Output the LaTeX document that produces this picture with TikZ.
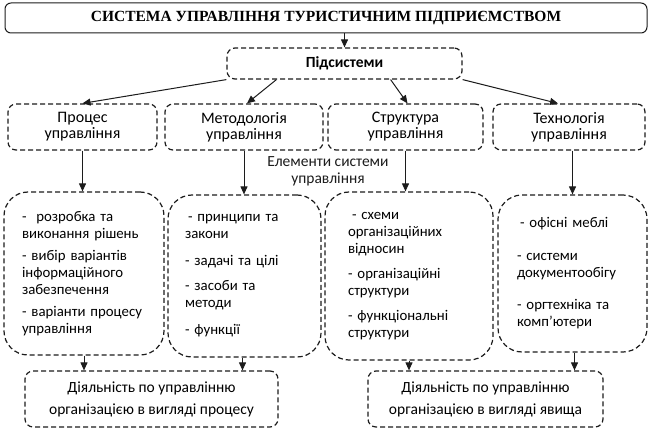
\documentclass[tikz,border=0pt]{standalone}
\usepackage{fontspec}
\setmainfont{Carlito}
\newfontfamily\titlefont{Liberation Serif}
\usetikzlibrary{arrows.meta,positioning,calc}
\definecolor{vink}{HTML}{1C1C1C}
\tikzset{
  ttl/.style={draw=vink,rounded corners=6pt,line width=1pt,font=\titlefont\bfseries\fontsize{15.5}{18}\selectfont,minimum width=642pt,minimum height=30pt,inner sep=0pt},
  dbox/.style={draw=vink,dash pattern=on 5pt off 3pt,line width=1.2pt,rounded corners=8pt,align=center,font=\fontsize{16}{16}\selectfont,inner sep=0pt},
  bigbox/.style={dbox,rounded corners=24pt,align=left,font=\fontsize{14.8}{17}\selectfont},
  actbox/.style={dbox,font=\fontsize{15.5}{22}\selectfont,minimum height=56pt},
  arr/.style={-{Triangle[length=8pt,width=7pt]},line width=1pt,draw=vink},
  lbl/.style={align=center,font=\fontsize{15.5}{17}\selectfont,text=vink},
}
\begin{document}
\begin{tikzpicture}[x=1pt,y=-1pt]
  \useasboundingbox (0,0) rectangle (650,430);
  % top
  \node[ttl] (sys) at (326,18) {СИСТЕМА УПРАВЛІННЯ ТУРИСТИЧНИМ ПІДПРИЄМСТВОМ};
  \node[dbox,font=\bfseries\fontsize{15.5}{16}\selectfont,minimum width=235pt,minimum height=31pt] (sub) at (344.5,63.5) {Підсистеми};
  % subsystems
  \node[dbox,minimum width=149pt,minimum height=46pt] (proc) at (82.5,127) {Процес\\управління};
  \node[dbox,minimum width=158pt,minimum height=46pt] (meth) at (244,127) {Методологія\\управління};
  \node[dbox,minimum width=155pt,minimum height=46pt] (struc) at (405.5,127) {Структура\\управління};
  \node[dbox,minimum width=152pt,minimum height=46pt] (tech) at (569,127) {Технологія\\управління};
  \node[lbl] (elem) at (328,171.5) {Елементи системи\\управління};
  % elements
  \node[bigbox,minimum width=160pt,minimum height=163pt,text width=124pt] (el1) at (84,273.5)
    {-\ \ розробка та\\виконання рішень\\[5pt]- вибір варіантів\\інформаційного\\забезпечення\\[5pt]- варіанти процесу\\управління};
  \node[bigbox,minimum width=153pt,minimum height=162pt,text width=119pt] (el2) at (244.5,276)
    {\hspace{3pt}- принципи та\\закони\\[10pt]- задачі та цілі\\[8pt]- засоби та\\методи\\[10pt]- функції};
  \node[bigbox,minimum width=168pt,minimum height=168pt,text width=122pt] (el3) at (409,276)
    {\hspace{4pt}- схеми\\організаційних\\відносин\\[8pt]- організаційні\\структури\\[8pt]- функціональні\\структури};
  \node[bigbox,minimum width=149pt,minimum height=157pt,text width=111pt] (el4) at (572.5,273.5)
    {\hspace{3pt}- офісні меблі\\[16pt]- системи\\документообігу\\[15pt]- оргтехніка та\\комп’ютери};
  % activity
  \node[actbox,minimum width=253pt] (act1) at (151.5,399) {Діяльність по управлінню\\організацією в вигляді процесу};
  \node[actbox,minimum width=235pt] (act2) at (485.5,399) {Діяльність по управлінню\\організацією в вигляді явища};
  % arrows
  \draw[arr] (sys.south -| sub.north) -- (sub.north);
  \draw[arr] (sub.south west) -- (proc.north);
  \draw[arr] ([xshift=50pt]sub.south west) -- ([xshift=3pt]meth.north);
  \draw[arr] ([xshift=-72pt]sub.south east) -- ([xshift=2pt]struc.north);
  \draw[arr] (sub.south east) -- ([xshift=-11pt]tech.north);
  \draw[arr] (proc.south) -- (proc.south |- el1.north);
  \draw[arr] (meth.south) -- (meth.south |- el2.north);
  \draw[arr] (struc.south) -- (struc.south |- el3.north);
  \draw[arr] (el4.north |- tech.south) -- (el4.north);
  \draw[arr] (el1.south) -- (el1.south |- act1.north);
  \draw[arr] ([xshift=-2pt]el2.south) -- ([xshift=-2pt]el2.south |- act1.north);
  \draw[arr] (el3.south) -- (el3.south |- act2.north);
  \draw[arr] ([xshift=2pt]el4.south) -- ([xshift=2pt]el4.south |- act2.north);
\end{tikzpicture}
\end{document}
